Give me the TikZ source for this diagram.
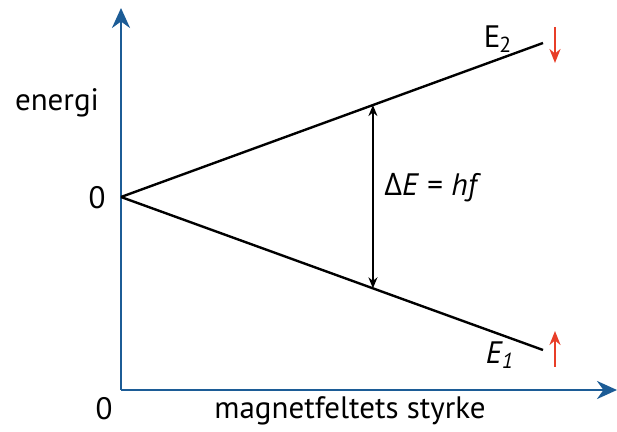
\documentclass[tikz,border=0pt]{standalone}
\usepackage{fontspec}
\setmainfont{PT Sans}
\newfontfamily\deltafont{Open Sans}
\usetikzlibrary{arrows.meta, calc}
\definecolor{axisblue}{RGB}{28,92,150}
\definecolor{spinred}{RGB}{232,62,40}
\begin{document}
\begin{tikzpicture}[
    x=0.5pt, y=-0.5pt,
    >=Stealth,
    axis/.style={axisblue, line width=1.4pt, -{Stealth[length=10pt, width=9pt]}},
    level/.style={black, line width=1.2pt},
    gaparrow/.style={black, line width=0.8pt,
                {Stealth[length=5.5pt, width=4.5pt]}-{Stealth[length=5.5pt, width=4.5pt]}},
    spin/.style={spinred, line width=1.3pt, -{Stealth[length=7pt, width=5.5pt]}},
    lbl/.style={font=\fontsize{15.5}{18}\selectfont, inner sep=0pt},
]
\useasboundingbox (0,0) rectangle (617,432);
\coordinate (orig) at (121,390);
\coordinate (yend) at (121,8);
\coordinate (xend) at (617,390);
\coordinate (zero) at (121,197);
\coordinate (e2end) at (543,43);
\coordinate (e1end) at (543,350);
\draw[axis] (orig) -- (yend);
\draw[axis] (orig) -- (xend);
\draw[level] (zero) -- (e2end);
\draw[level] (zero) -- (e1end);
\coordinate (gaptop) at ($(zero)!0.597!(e2end)$);
\coordinate (gapbot) at ($(zero)!0.597!(e1end)$);
\draw[gaparrow] (gaptop) -- (gapbot);
% spin arrows
\coordinate (downtop) at (555,27);
\coordinate (downbot) at (555,63);
\coordinate (upbot) at (555,367);
\coordinate (uptop) at (555,331);
\draw[spin] (downtop) -- (downbot);
\draw[spin] (upbot) -- (uptop);
\node[lbl] (energi) at (57,103) {energi};
\node[lbl] (yzero) at (97,198) {0};
\node[lbl] (xzero) at (104,409) {0};
\node[lbl] (xlabel) at (350,411) {magnetfeltets styrke};
\node[lbl, anchor=west] (gaplbl) at (384,188) {{\deltafont Δ}\textit{E} = \textit{hf}};
\node[lbl] (e2lbl) at (498,39) {E\kern-0.5pt\textsubscript{2}};
\node[lbl] (e1lbl) at (500,355) {\textit{E}\kern-0.5pt\textsubscript{\textit{1}}};
\end{tikzpicture}
\end{document}
